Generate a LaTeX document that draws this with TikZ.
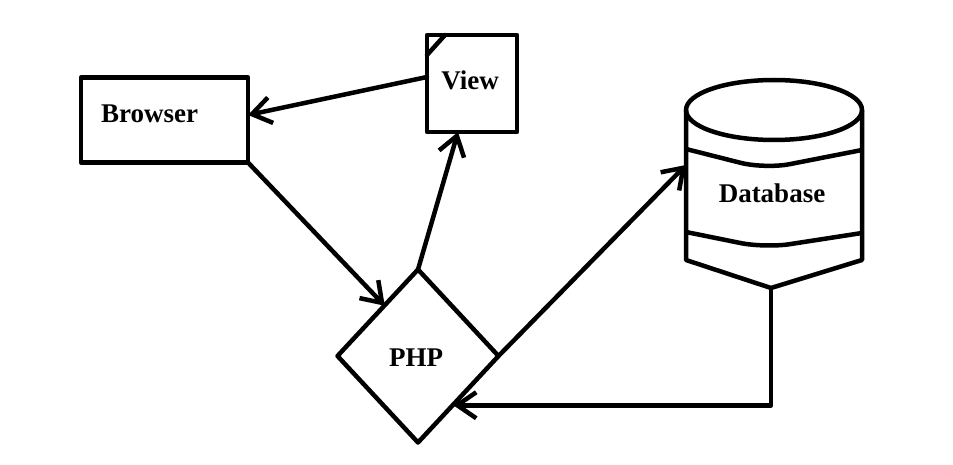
\documentclass[tikz,border=0pt]{standalone}
\usepackage{fontspec}
\setmainfont{Liberation Serif}
\usetikzlibrary{shapes.geometric,arrows.meta}
\begin{document}
\begin{tikzpicture}[x=1pt,y=-1pt,
  shapeline/.style={draw=black,line width=4.5pt,line join=round},
  lbl/.style={font=\fontsize{27}{30}\selectfont\bfseries,inner sep=0pt,anchor=base},
  arr/.style={draw=black,line width=4.5pt,line cap=round,line join=round,
    -{Straight Barb[length=19pt,width=26pt,line width=4.5pt]}},
  conn/.style={draw=black,line width=4.5pt,line cap=round,line join=round}]
\useasboundingbox (0,0) rectangle (953,465);
\fill[white] (0,0) rectangle (953,465);

% Browser
\node[shapeline,rectangle,minimum width=167pt,minimum height=85pt,inner sep=0pt,outer sep=0pt] (browser) at (164.5,120) {};
\node[lbl] (browsertext) at (149.5,122.5) {Browser};

% View
\node[shapeline,rectangle,minimum width=90pt,minimum height=97pt,inner sep=0pt,outer sep=0pt] (view) at (472,83.5) {};
\draw[conn] ([yshift=-20pt]view.north west) -- ([xshift=18pt]view.north west);
\node[lbl] (viewtext) at (470,90) {View};

% PHP
\node[shapeline,diamond,minimum width=161pt,minimum height=173pt,inner sep=0pt,outer sep=0pt] (php) at (418,356) {};
\node[lbl] (phptext) at (416,366.5) {PHP};

% Database
\node[rectangle,minimum width=176pt,minimum height=208pt,inner sep=0pt,outer sep=0pt] (db) at (774,184) {};
\draw[shapeline] (774,110) ellipse [x radius=88, y radius=30];
\draw[shapeline] (686,110) -- (686,260) -- (771,288) -- (862,260) -- (862,110);
\draw[shapeline,rounded corners=25pt] (686,149) -- (765,169) -- (862,150);
\draw[shapeline,rounded corners=25pt] (686,232) -- (765,248) -- (862,233);
\node[lbl] (dbtext) at (772,203) {Database};

% connectors
\draw[arr] ([yshift=6.5pt]view.west) -- ([yshift=5pt]browser.east);
\draw[arr] (browser.south east) -- ([xshift=7pt,yshift=7pt]php.north west);
\draw[arr] (php.north) -- ([xshift=-14pt]view.south);
\draw[arr] (php.east) -- ([yshift=19pt]db.west);
\draw[arr] ([xshift=-3pt]db.south) |- ([xshift=-5pt,yshift=-6pt]php.south east);
\end{tikzpicture}
\end{document}
